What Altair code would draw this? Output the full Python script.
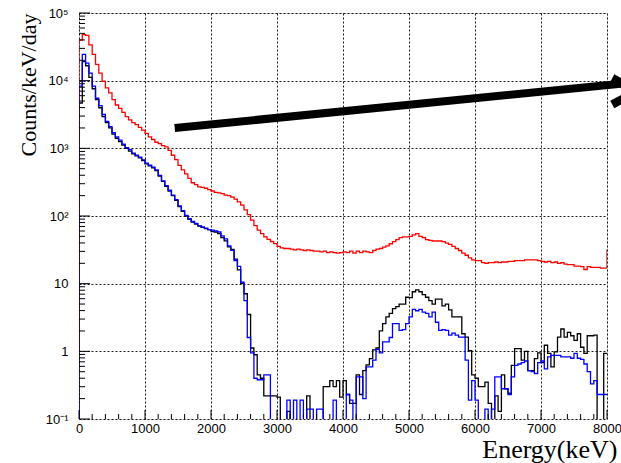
import altair as alt
import pandas as pd

# ---- data: counts/keV/day per 50 keV bin (0 .. 8000 keV), 10 bins per row ----
bin_width = 50
red_vals = [
    39800, 47900, 46800, 33900, 24500, 17400, 12900, 9800, 7800, 6600,
    5250, 4370, 3890, 3390, 2950, 2630, 2400, 2240, 2040, 1860,
    1660, 1480, 1350, 1230, 1170, 1100, 1050, 930, 790, 680,
    560, 480, 420, 360, 310, 290, 270, 265, 257, 245,
    234, 224, 219, 214, 204, 200, 190, 178, 162, 145,
    123, 105, 87, 72, 62, 55, 49, 45, 42, 39,
    35.5, 33.9, 33.1, 33.1, 32.4, 31.6, 32.4, 31.6, 30.9, 31.6,
    30.9, 30.2, 30.2, 29.5, 30.2, 28.8, 29.5, 28.8, 28.2, 28.8,
    29.5, 28.8, 30.2, 28.2, 30.2, 28.8, 30.2, 29.5, 28.8, 30.9,
    32.4, 33.1, 34.7, 36.3, 38.9, 41.7, 44.7, 47.9, 49.0, 49.0,
    50.1, 52.5, 55.0, 50.1, 47.9, 44.7, 43.7, 42.7, 42.7, 42.7,
    41.7, 39.8, 38.0, 35.5, 33.1, 30.9, 28.2, 26.3, 24.0, 22.4,
    21.9, 21.9, 20.4, 20.0, 20.4, 20.4, 20.9, 20.4, 20.9, 20.9,
    21.4, 21.4, 21.9, 21.9, 21.9, 22.4, 22.4, 22.4, 22.4, 21.9,
    21.4, 20.9, 21.4, 20.4, 20.9, 20.0, 20.4, 19.5, 19.1, 19.1,
    18.2, 18.2, 17.8, 16.2, 17.8, 17.4, 17.4, 17.4, 17.0, 17.0,
]
red_under, red_over = 1.0, 32.0

black_vals = [
    4680, 19100, 16600, 11200, 7600, 5250, 3980, 2950, 2400, 2000,
    1620, 1410, 1260, 1120, 1000, 912, 832, 776, 724, 661,
    589, 550, 513, 468, 389, 324, 275, 234, 200, 170,
    138, 117, 100, 89, 81, 76, 71, 68, 65, 63,
    59, 58, 55, 48, 43, 35, 32, 23, 16, 10,
    7.1, 3.5, 1.12, 0.89, 0.45, 0.40, 0.22, 0.22, 0.22, 0.22,
    0.21, 0.01, 0.01, 0.13, 0.01, 0.01, 0.01, 0.01, 0.01, 0.22,
    0.01, 0.01, 0.01, 0.01, 0.30, 0.30, 0.37, 0.30, 0.37, 0.21,
    0.37, 0.23, 0.17, 0.17, 0.45, 0.23, 0.52, 0.63, 0.78, 1.05,
    1.12, 2.0, 2.57, 3.24, 3.63, 4.27, 4.57, 5.0, 5.0, 6.3,
    6.2, 7.6, 8.1, 7.6, 6.9, 6.3, 5.6, 5.0, 5.9, 5.9,
    4.7, 5.0, 4.1, 3.24, 3.24, 3.24, 1.82, 1.62, 1.02, 0.45,
    0.40, 0.30, 0.30, 0.35, 0.17, 0.01, 0.22, 0.13, 0.45, 0.28,
    0.24, 0.62, 1.10, 1.10, 0.74, 1.0, 0.52, 0.52, 0.78, 0.95,
    0.68, 1.23, 0.93, 0.59, 0.98, 1.62, 2.14, 1.62, 1.90, 1.70,
    1.45, 1.82, 1.15, 0.93, 1.70, 1.70, 1.74, 0.01, 0.01, 0.93,
]
black_under = 0.01

blue_vals = [
    8300, 24500, 18200, 12900, 8300, 5500, 4270, 3160, 2510, 2090,
    1700, 1480, 1320, 1150, 1020, 955, 850, 794, 741, 676,
    603, 562, 525, 479, 398, 331, 282, 240, 204, 174,
    141, 120, 102, 91, 83, 78, 72, 69, 66, 63,
    62, 60, 58, 51, 46, 36, 31, 22, 18, 10.5,
    5.6, 1.6, 0.95, 0.40, 0.38, 0.38, 0.45, 0.45, 0.01, 0.01,
    0.01, 0.01, 0.01, 0.19, 0.01, 0.19, 0.01, 0.19, 0.01, 0.14,
    0.14, 0.01, 0.14, 0.14, 0.01, 0.01, 0.01, 0.19, 0.01, 0.01,
    0.01, 0.23, 0.19, 0.01, 0.42, 0.42, 0.20, 0.59, 0.59, 0.74,
    1.07, 0.95, 1.38, 1.38, 1.6, 2.57, 2.57, 2.04, 2.1, 2.57,
    3.24, 4.17, 3.98, 4.17, 3.8, 3.63, 3.24, 3.8, 2.69, 2.04,
    2.1, 2.04, 1.74, 1.86, 1.74, 1.62, 1.62, 0.74, 0.19, 0.37,
    0.19, 0.01, 0.01, 0.14, 0.01, 0.14, 0.42, 0.42, 0.28, 0.28,
    0.23, 0.42, 0.62, 0.65, 0.68, 0.72, 0.52, 0.50, 0.47, 0.68,
    0.72, 0.55, 0.83, 0.87, 0.87, 0.87, 0.83, 0.83, 0.83, 0.79,
    0.93, 0.79, 0.76, 0.65, 0.50, 0.33, 0.37, 0.23, 0.23, 0.23,
]
blue_under = 0.01

series_names = ["red", "black", "blue"]
series_colors = ["#ff0000", "#000000", "#0000ff"]

# thick annotation line (keV, counts)
arrow_x = [1450, 8500]
arrow_y = [2000, 9600]
star_x = [8450]
star_y = [1000]

x_ticks = [0, 1000, 2000, 3000, 4000, 5000, 6000, 7000, 8000]
y_ticks = [0.1, 1, 10, 100, 1000, 10000, 100000]

# ---- build tables ----
edges = [i * bin_width for i in range(len(red_vals))]
rows = []
def add(name, vals, under, over, order):
    rows.append({"E": -bin_width, "v": under, "s": name, "o": order})
    for e, v in zip(edges, vals):
        rows.append({"E": e, "v": v, "s": name, "o": order})
    rows.append({"E": 8000, "v": over, "s": name, "o": order})

add("red", red_vals, red_under, red_over, 0)
add("black", black_vals, black_under, black_vals[-1], 1)
add("blue", blue_vals, blue_under, blue_vals[-1], 2)
hist = pd.DataFrame(rows)

W, H = 528, 406

label_expr = ("datum.value >= 99999 ? '10\u2075' : datum.value >= 9999 ? '10\u2074' : "
              "datum.value >= 999 ? '10\u00b3' : datum.value >= 99 ? '10\u00b2' : "
              "datum.value >= 9 ? '10' : datum.value >= 0.9 ? '1' : '10\u207b\u00b9'")

X = alt.X("E:Q",
          scale=alt.Scale(domain=[0, 8000], nice=False, zero=False),
          axis=alt.Axis(values=x_ticks, format="d", title="Energy(keV)",
                        grid=True, gridDash=[2, 2], gridColor="#000000", gridOpacity=0.9,
                        gridWidth=1,
                        ticks=False, domain=False, labelFlush=False, labelOverlap=False,
                        labelFont="Liberation Sans", labelFontSize=13, labelColor="#000000",
                        labelPadding=3,
                        titleFont="Liberation Serif", titleFontSize=26, titleFontWeight="normal",
                        titleColor="#000000", titleAnchor="end", titleAlign="right",
                        titleX=538, titleY=38, titleBaseline="alphabetic"))
Y = alt.Y("v:Q",
          scale=alt.Scale(type="log", domain=[0.1, 100000], nice=False),
          axis=alt.Axis(values=y_ticks, labelExpr=label_expr, title="Counts/keV/day",
                        grid=True, gridDash=[2, 2], gridColor="#000000", gridOpacity=0.9,
                        gridWidth=1,
                        ticks=False, domain=False, labelFlush=False, labelOverlap=False,
                        labelFont="Liberation Sans", labelFontSize=13, labelColor="#000000",
                        labelPadding=11,
                        titleFont="Liberation Serif", titleFontSize=22, titleFontWeight="normal",
                        titleColor="#000000", titleAngle=-90, titleAnchor="end",
                        titleAlign="right", titleX=-44, titleY=0,
                        titleBaseline="alphabetic"))

lines = alt.Chart(hist).mark_line(interpolate="step-after", clip=True, strokeWidth=1.3).encode(
    x=X, y=Y,
    color=alt.Color("s:N", scale=alt.Scale(domain=series_names, range=series_colors), legend=None),
    order=alt.Order("E:Q"),
    detail="s:N",
)

# inside ticks
xminor = pd.DataFrame({"E": [e for e in range(0, 8001, 200) if e % 1000 != 0]})
xmajor = pd.DataFrame({"E": x_ticks})
xt1 = alt.Chart(xminor).mark_rule(color="black", strokeWidth=1).encode(
    x=X, y=alt.value(H), y2=alt.value(H - 5))
xt2 = alt.Chart(xmajor).mark_rule(color="black", strokeWidth=1).encode(
    x=X, y=alt.value(H), y2=alt.value(H - 9))

yminor_vals = [m * 10 ** k for k in range(-1, 5) for m in range(2, 10)]
yminor = pd.DataFrame({"v": yminor_vals})
ymajor = pd.DataFrame({"v": y_ticks})
yt1 = alt.Chart(yminor).mark_rule(color="black", strokeWidth=1).encode(
    y=Y, x=alt.value(0), x2=alt.value(6))
yt2 = alt.Chart(ymajor).mark_rule(color="black", strokeWidth=1).encode(
    y=Y, x=alt.value(0), x2=alt.value(11))

arrow = alt.Chart(pd.DataFrame({"E": arrow_x, "v": arrow_y})).mark_line(
    color="black", strokeWidth=8, clip=False, strokeCap="butt").encode(x=X, y=Y)

star = alt.Chart(pd.DataFrame({"E": star_x, "v": star_y})).mark_text(
    text="*", font="DejaVu Sans", fontSize=110, fontWeight="bold", color="black",
    align="center", baseline="alphabetic", clip=False).encode(x=X, y=Y)

chart = alt.layer(lines, xt1, xt2, yt1, yt2, arrow, star).properties(
    width=W, height=H,
    autosize=alt.AutoSizeParams(type="none"),
    padding={"left": 79, "top": 13, "right": 14, "bottom": 44},
).configure_view(stroke="black", strokeWidth=1.2).configure(background="white")

chart.save("out.html", embed_options={"renderer": "svg", "actions": False})
